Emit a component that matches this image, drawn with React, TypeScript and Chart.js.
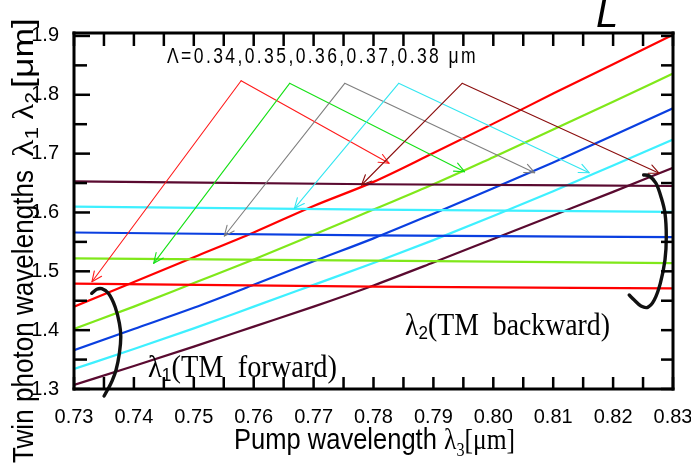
import React, { useEffect, useRef } from "react";
import { Chart, registerables } from "chart.js";
Chart.register(...registerables);

// ---- data ----
const xValues = [0.73, 0.74, 0.75, 0.76, 0.77, 0.78, 0.79, 0.8, 0.81, 0.82, 0.83];
const forwardRed = [1.44, 1.482, 1.524, 1.566, 1.611, 1.652, 1.701, 1.751, 1.802, 1.852, 1.902];
const forwardGreen = [1.402, 1.44, 1.48, 1.52, 1.562, 1.605, 1.648, 1.694, 1.741, 1.788, 1.836];
const forwardBlue = [1.366, 1.402, 1.438, 1.477, 1.517, 1.556, 1.598, 1.641, 1.685, 1.731, 1.777];
const forwardCyan = [1.334, 1.368, 1.403, 1.44, 1.477, 1.514, 1.553, 1.594, 1.636, 1.68, 1.724];
const forwardMaroon = [1.307, 1.339, 1.372, 1.406, 1.44, 1.476, 1.515, 1.555, 1.595, 1.635, 1.676];

const backwardX = [0.73, 0.78, 0.83];
const backwardRed = [1.479, 1.474, 1.471];
const backwardGreen = [1.522, 1.518, 1.514];
const backwardBlue = [1.566, 1.561, 1.558];
const backwardCyan = [1.61, 1.605, 1.601];
const backwardMaroon = [1.653, 1.648, 1.645];

const periodLabels = ["0.34", "0.35", "0.36", "0.37", "0.38"];
const xTickValues = [0.73, 0.74, 0.75, 0.76, 0.77, 0.78, 0.79, 0.8, 0.81, 0.82, 0.83];
const yTickValues = [1.3, 1.4, 1.5, 1.6, 1.7, 1.8, 1.9];

// annotation anchors (data coordinates)
const arrowApex = [[0.7579, 1.8239], [0.766, 1.8195], [0.7752, 1.8195], [0.7842, 1.8195], [0.7948, 1.8195]];
const arrowLeftTip = [[0.733, 1.4823], [0.7433, 1.5136], [0.7551, 1.56], [0.7668, 1.6071], [0.778, 1.6467]];
const arrowRightTip = [[0.7826, 1.6836], [0.7952, 1.6693], [0.8069, 1.6676], [0.816, 1.6676], [0.8277, 1.6666]];
const leftBracket = [
  [0.73296, 1.4626], [0.7338, 1.4694], [0.73463, 1.4704], [0.73574, 1.4626], [0.73686, 1.4398],
  [0.73758, 1.4116], [0.73781, 1.3888], [0.73758, 1.3606], [0.73702, 1.3323], [0.7363, 1.3124],
  [0.73574, 1.3012], [0.73502, 1.2881],
];
const rightBracket = [
  [0.8251, 1.6637], [0.82604, 1.662], [0.82716, 1.6496], [0.82799, 1.6268], [0.82866, 1.5986],
  [0.82888, 1.5588], [0.82866, 1.5192], [0.82788, 1.4796], [0.82687, 1.4512], [0.82577, 1.4388],
  [0.82465, 1.441], [0.82353, 1.4512], [0.82269, 1.4597],
];

const lineColors = ["#ff0000", "#80e81a", "#0a3fe0", "#3ef0ff", "#5a0a30"];
const arrowColors = ["#ff1a1a", "#16e016", "#7f7f7f", "#33e6f0", "#8b0e0e"];

const SANS = '"Liberation Sans", Arial, sans-serif';
const SERIF = '"Liberation Serif", "Times New Roman", serif';

function smoothPath(ctx: CanvasRenderingContext2D, pts: number[][]) {
  ctx.beginPath();
  ctx.moveTo(pts[0][0], pts[0][1]);
  for (let i = 0; i < pts.length - 1; i++) {
    const p0 = pts[i - 1] || pts[i];
    const p1 = pts[i];
    const p2 = pts[i + 1];
    const p3 = pts[i + 2] || p2;
    ctx.bezierCurveTo(
      p1[0] + (p2[0] - p0[0]) / 6, p1[1] + (p2[1] - p0[1]) / 6,
      p2[0] - (p3[0] - p1[0]) / 6, p2[1] - (p3[1] - p1[1]) / 6,
      p2[0], p2[1]
    );
  }
  ctx.stroke();
}

function arrow(ctx: CanvasRenderingContext2D, ax: number, ay: number, tx: number, ty: number) {
  ctx.beginPath();
  ctx.moveTo(ax, ay);
  ctx.lineTo(tx, ty);
  ctx.stroke();
  const ang = Math.atan2(ty - ay, tx - ax);
  const L = 11, w = 0.42;
  ctx.beginPath();
  ctx.moveTo(tx - L * Math.cos(ang - w), ty - L * Math.sin(ang - w));
  ctx.lineTo(tx, ty);
  ctx.lineTo(tx - L * Math.cos(ang + w), ty - L * Math.sin(ang + w));
  ctx.stroke();
}

function drawRun(ctx: CanvasRenderingContext2D, parts: [string, string, number][], x: number, y: number, width: number) {
  let total = 0;
  const ws = parts.map(([t, f]) => { ctx.font = f; const w = ctx.measureText(t).width; total += w; return w; });
  const sx = width / total;
  ctx.save();
  ctx.translate(x, y);
  ctx.scale(sx, 1);
  let cx = 0;
  parts.forEach(([t, f, dy], i) => { ctx.font = f; ctx.fillText(t, cx, dy); cx += ws[i]; });
  ctx.restore();
}

const decor = {
  id: "decor",
  afterDraw(chart: any) {
    const ctx: CanvasRenderingContext2D = chart.ctx;
    const xs = chart.scales.x, ys = chart.scales.y;
    const { left, right, top, bottom } = chart.chartArea;
    const P = (p: number[]) => [xs.getPixelForValue(p[0]), ys.getPixelForValue(p[1])];
    ctx.save();
    ctx.lineCap = "round";
    ctx.lineJoin = "round";
    ctx.lineWidth = 1.1;
    arrowColors.forEach((c, i) => {
      ctx.strokeStyle = c;
      const a = P(arrowApex[i]);
      const l = P(arrowLeftTip[i]);
      const r = P(arrowRightTip[i]);
      arrow(ctx, a[0], a[1], l[0], l[1]);
      arrow(ctx, a[0], a[1], r[0], r[1]);
    });
    ctx.strokeStyle = "#111";
    ctx.lineWidth = 3.4;
    smoothPath(ctx, leftBracket.map(P));
    smoothPath(ctx, rightBracket.map(P));
    // box and ticks
    ctx.fillStyle = "#000";
    const bw = 3;
    ctx.fillRect(left - bw / 2, top - bw / 2, right - left + bw, bw);
    ctx.fillRect(left - bw / 2, bottom - bw / 2, right - left + bw, bw);
    ctx.fillRect(left - bw / 2, top - bw / 2, bw, bottom - top + bw);
    ctx.fillRect(right - bw / 2, top - bw / 2, bw, bottom - top + bw);
    const tw = 2.5;
    for (let i = 0; i <= 20; i++) {
      const x = xs.getPixelForValue(0.73 + i * 0.005);
      ctx.fillRect(x - tw / 2, bottom - 12, tw, 12);
      ctx.fillRect(x - tw / 2, top, tw, 13);
    }
    for (let i = 0; i <= 12; i++) {
      const y = ys.getPixelForValue(1.3 + i * 0.05);
      const major = i % 2 === 0;
      ctx.fillRect(left, y - tw / 2, major ? 16 : 13, tw);
      ctx.fillRect(right - 12, y - tw / 2, 12, tw);
    }
    ctx.textBaseline = "alphabetic";
    ctx.textAlign = "left";
    ctx.font = `22px ${SANS}`;
    (ctx as any).letterSpacing = "3px";
    const lamText = "Λ=" + periodLabels.join(",") + " μm";
    const lw = ctx.measureText(lamText).width;
    ctx.save();
    ctx.translate(167, 63);
    ctx.scale(311 / lw, 1);
    ctx.fillText(lamText, 0, 0);
    ctx.restore();
    (ctx as any).letterSpacing = "0px";
    drawRun(ctx, [["λ", `31px ${SERIF}`, 0], ["1", `19px ${SANS}`, 4], ["(TM  forward)", `31px ${SERIF}`, 0]], 148, 377, 189);
    drawRun(ctx, [["λ", `31px ${SERIF}`, 0], ["2", `19px ${SANS}`, 4], ["(TM  backward)", `31px ${SERIF}`, 0]], 405, 335, 205);
    ctx.font = `italic 40px ${SANS}`;
    ctx.fillText("L", 596, 27);
    drawRun(ctx, [["Pump wavelength ", `30px ${SANS}`, 0], ["λ", `30px ${SERIF}`, 0], ["3", `19px ${SERIF}`, 7], ["[μm]", `30px ${SERIF}`, 0]], 234, 449, 281);
    ctx.save();
    ctx.translate(33, 463);
    ctx.rotate(-Math.PI / 2);
    drawRun(ctx, [["Twin photon wavelengths", `30px ${SANS}`, 0]], 0, 0, 293);
    drawRun(ctx, [["λ", `30px ${SERIF}`, 0], ["1", `19px ${SANS}`, 5]], 306, 0, 30);
    drawRun(ctx, [["λ", `30px ${SERIF}`, 0], ["2", `19px ${SANS}`, 5]], 343, 0, 28);
    drawRun(ctx, [["[μm]", `30px ${SANS}`, 0]], 375, 0, 70);
    ctx.restore();
    ctx.restore();
  },
};

function series(label: string, xs: number[], ys: number[], color: string) {
  return {
    label,
    data: xs.map((x, i) => ({ x, y: ys[i] })),
    borderColor: color,
    backgroundColor: color,
    borderWidth: 2.2,
    pointRadius: 0,
    fill: false,
    tension: 0.2,
    cubicInterpolationMode: "monotone" as const,
  };
}

export default function App() {
  const ref = useRef<HTMLCanvasElement>(null);
  useEffect(() => {
    const canvas = ref.current!;
    const tickFont = { family: '"Liberation Sans Narrow", "Liberation Sans", Arial, sans-serif', size: 20 };
    const chart = new Chart(canvas, {
      type: "line",
      data: {
        datasets: [
          series("λ2 Λ=0.34", backwardX, backwardRed, lineColors[0]),
          series("λ2 Λ=0.35", backwardX, backwardGreen, lineColors[1]),
          series("λ2 Λ=0.36", backwardX, backwardBlue, lineColors[2]),
          series("λ2 Λ=0.37", backwardX, backwardCyan, lineColors[3]),
          series("λ2 Λ=0.38", backwardX, backwardMaroon, lineColors[4]),
          series("λ1 Λ=0.34", xValues, forwardRed, lineColors[0]),
          series("λ1 Λ=0.35", xValues, forwardGreen, lineColors[1]),
          series("λ1 Λ=0.36", xValues, forwardBlue, lineColors[2]),
          series("λ1 Λ=0.37", xValues, forwardCyan, lineColors[3]),
          series("λ1 Λ=0.38", xValues, forwardMaroon, lineColors[4]),
        ],
      },
      options: {
        animation: false,
        responsive: false,
        layout: { autoPadding: false, padding: { top: 33, right: 18, left: 0, bottom: 0 } },
        plugins: { legend: { display: false }, tooltip: { enabled: false }, title: { display: false } },
        scales: {
          x: {
            type: "linear",
            min: 0.73,
            max: 0.83,
            grid: { display: false },
            border: { display: false },
            afterBuildTicks: (s: any) => { s.ticks = xTickValues.map((v) => ({ value: v })); },
            afterFit: (s: any) => { s.height = 75; s.paddingLeft = 0; s.paddingRight = 0; },
            ticks: {
              color: "#000",
              font: tickFont,
              padding: 8,
              maxRotation: 0,
              autoSkip: false,
              callback: (v: any) => Number(v).toFixed(2),
            },
          },
          y: {
            type: "linear",
            min: 1.3,
            max: 1.905,
            grid: { display: false },
            border: { display: false },
            afterBuildTicks: (s: any) => { s.ticks = yTickValues.map((v) => ({ value: v })); },
            afterFit: (s: any) => { s.width = 74; s.paddingTop = 0; s.paddingBottom = 0; },
            ticks: {
              color: "#000",
              font: tickFont,
              padding: 7,
              autoSkip: false,
              callback: (v: any) => Number(v).toFixed(1),
            },
          },
        },
      },
      plugins: [decor],
    } as any);
    return () => chart.destroy();
  }, []);
  return (
    <div style={{ position: "fixed", left: 0, top: 0, width: 691, height: 464, background: "#fff" }}>
      <canvas ref={ref} width={691} height={464} style={{ display: "block", width: 691, height: 464 }} />
    </div>
  );
}
